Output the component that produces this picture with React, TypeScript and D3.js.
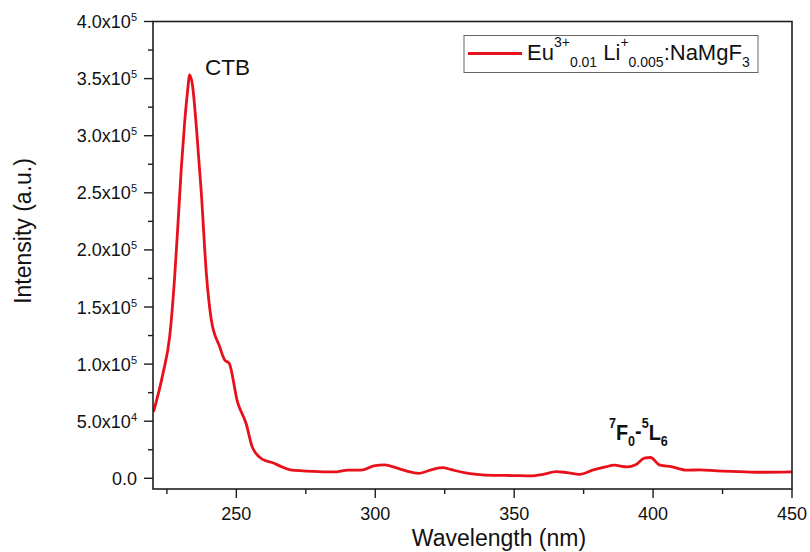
import React, { useRef, useEffect } from "react";
import * as d3 from "d3";

// excitation spectrum
const wavelength = [
  220.2, 223.6, 226, 227.8, 229, 230.2, 231.4, 232.4, 233.2, 234.2, 235.6, 237.4, 239.2,
  241, 244, 245.8, 247.4, 250.4, 253.5, 255.8, 259.5, 263.5, 265.6, 269.4, 274,
  279.5, 284.9, 290.3, 294.9, 299.5, 303.4, 307.3, 311.1, 315.7, 320.4, 324.2,
  327.3, 332, 336.6, 342.7, 349.7, 355.9, 360.5, 365.1, 369, 373.6, 378.2, 382.9,
  386, 390.6, 393.7, 396.8, 399.1, 402.2, 406.8, 412.2, 416.8, 423, 430.7, 438.4, 450,
];
const intensity = [
  58300, 91900, 124000, 176500, 223300, 272000, 312000, 338000, 353200, 344400, 307900,
  249600, 179500, 138600, 115200, 103600, 100700, 67000, 48000, 27000, 16500,
  13200, 10900, 7400, 6500, 5900, 5600, 7100, 7100, 10900, 11800, 9400, 6500,
  4400, 7600, 9400, 7600, 5000, 3500, 2600, 2400, 2100, 3500, 5900, 5000, 3500,
  7100, 10000, 11500, 10000, 11800, 17600, 18200, 11800, 10000, 7100, 7400, 6500,
  5900, 5300, 5600,
];

const xMajor = [250, 300, 350, 400, 450];
const xMinor = [225, 275, 325, 375, 425];
const yMajor = [0, 50000, 100000, 150000, 200000, 250000, 300000, 350000, 400000];
const yMinor = [25000, 75000, 125000, 175000, 225000, 275000, 325000, 375000];

type Part = { t: string; size: number; shift: number };

// text with sup/sub pieces, dy is cumulative so track previous shift
function richText(g: any, x: number, y: number, parts: Part[], anchor = "start") {
  const txt = g.append("text")
    .attr("x", x).attr("y", y)
    .attr("text-anchor", anchor)
    .style("white-space", "pre");
  let prev = 0;
  parts.forEach(p => {
    txt.append("tspan")
      .attr("dy", p.shift - prev)
      .attr("font-size", p.size)
      .text(p.t);
    prev = p.shift;
  });
  return txt;
}

function yLabel(v: number): Part[] {
  if (v === 0) return [{ t: "0.0", size: 18, shift: 0 }];
  const e = Math.floor(Math.log10(v));
  const m = (v / Math.pow(10, e)).toFixed(1);
  return [
    { t: `${m}x10`, size: 18, shift: 0 },
    { t: `${e}`, size: 11, shift: -7 },
  ];
}

export default function App() {
  const svgRef = useRef<SVGSVGElement>(null);

  useEffect(() => {
    const svgEl = svgRef.current;
    if (!svgEl) return;
    d3.select(svgEl).selectAll("*").remove();

    const left = 153, right = 792, top = 21.5, bottom = 489;
    const x = d3.scaleLinear().domain([220, 450]).range([left, right]);
    const y = d3.scaleLinear().domain([0, 400000]).range([478.3, top]);
    const axisColor = "#1e1e1e";

    const svg = d3.select(svgEl)
      .style("font-family", "'Liberation Sans', Arial, sans-serif")
      .attr("fill", "#111");

    svg.append("rect")
      .attr("width", 810).attr("height", 552).attr("fill", "#fff");

    // curve (clipped to frame)
    svg.append("clipPath").attr("id", "plotClip")
      .append("rect")
      .attr("x", left).attr("y", top)
      .attr("width", right - left).attr("height", bottom - top);

    const pts: [number, number][] = wavelength.map((w, i) => [w, intensity[i]]);
    const line = d3.line<[number, number]>()
      .x(d => x(d[0]))
      .y(d => y(d[1]))
      .curve(d3.curveMonotoneX);

    svg.append("path")
      .attr("clip-path", "url(#plotClip)")
      .attr("d", line(pts))
      .attr("fill", "none")
      .attr("stroke", "#e8101a")
      .attr("stroke-width", 2.8)
      .attr("stroke-linejoin", "round");

    // frame
    svg.append("rect")
      .attr("x", left).attr("y", top)
      .attr("width", right - left).attr("height", bottom - top)
      .attr("fill", "none")
      .attr("stroke", axisColor)
      .attr("stroke-width", 1.6);

    // x ticks
    const gx = svg.append("g");
    xMajor.forEach(v => {
      gx.append("line")
        .attr("x1", x(v)).attr("x2", x(v))
        .attr("y1", bottom).attr("y2", bottom + 9)
        .attr("stroke", axisColor).attr("stroke-width", 1.4);
      gx.append("text")
        .attr("x", x(v)).attr("y", 520)
        .attr("text-anchor", "middle")
        .attr("font-size", 18)
        .text(v);
    });
    xMinor.forEach(v => {
      gx.append("line")
        .attr("x1", x(v)).attr("x2", x(v))
        .attr("y1", bottom).attr("y2", bottom + 5)
        .attr("stroke", axisColor).attr("stroke-width", 1.4);
    });

    // y ticks
    const gy = svg.append("g");
    yMajor.forEach(v => {
      gy.append("line")
        .attr("x1", left - 9).attr("x2", left)
        .attr("y1", y(v)).attr("y2", y(v))
        .attr("stroke", axisColor).attr("stroke-width", 1.4);
      richText(gy, 137, y(v) + 6.5, yLabel(v), "end");
    });
    yMinor.forEach(v => {
      gy.append("line")
        .attr("x1", left - 5).attr("x2", left)
        .attr("y1", y(v)).attr("y2", y(v))
        .attr("stroke", axisColor).attr("stroke-width", 1.4);
    });

    // axis titles
    svg.append("text")
      .attr("x", 499).attr("y", 546)
      .attr("text-anchor", "middle")
      .attr("font-size", 23)
      .text("Wavelength (nm)");
    svg.append("text")
      .attr("transform", "translate(31,231) rotate(-90)")
      .attr("text-anchor", "middle")
      .attr("font-size", 23)
      .text("Intensity (a.u.)");

    // annotations
    svg.append("text")
      .attr("x", 205).attr("y", 75)
      .attr("font-size", 22.5)
      .text("CTB");

    const ann = svg.append("g")
      .attr("transform", "translate(609,440) scale(0.9,1)")
      .attr("font-weight", "bold");
    richText(ann, 0, 0, [
      { t: "7", size: 14, shift: -12 },
      { t: "F", size: 22, shift: 0 },
      { t: "0", size: 14, shift: 6 },
      { t: "-", size: 22, shift: -2 },
      { t: "5", size: 14, shift: -12 },
      { t: "L", size: 22, shift: 0 },
      { t: "6", size: 14, shift: 6 },
    ]);

    // legend
    const lg = svg.append("g");
    lg.append("rect")
      .attr("x", 464).attr("y", 35.5)
      .attr("width", 294).attr("height", 37)
      .attr("fill", "#fff")
      .attr("stroke", "#666").attr("stroke-width", 1);
    lg.append("line")
      .attr("x1", 468).attr("x2", 522)
      .attr("y1", 53.5).attr("y2", 53.5)
      .attr("stroke", "#e8101a").attr("stroke-width", 2.8);
    richText(lg, 527, 60, [
      { t: "Eu", size: 22, shift: 0 },
      { t: "3+", size: 14, shift: -13 },
      { t: "0.01", size: 14, shift: 7 },
      { t: " Li", size: 22, shift: 0 },
      { t: "+", size: 14, shift: -13 },
      { t: "0.005", size: 14, shift: 7 },
      { t: ":NaMgF", size: 22, shift: 0 },
      { t: "3", size: 14, shift: 7 },
    ]);
  }, []);

  return (
    <svg
      ref={svgRef}
      width={810}
      height={552}
      style={{ position: "absolute", left: 0, top: 0, display: "block" }}
    />
  );
}
